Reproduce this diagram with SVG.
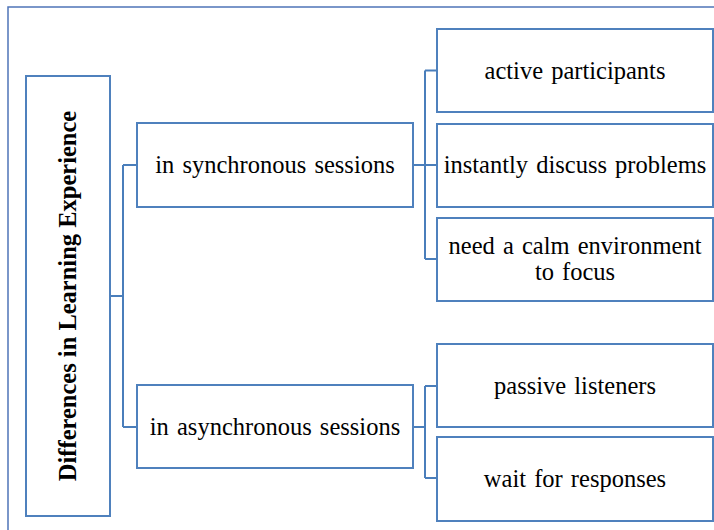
<svg xmlns="http://www.w3.org/2000/svg" width="714" height="530" viewBox="0 0 714 530">
<style>
.box{fill:#ffffff;stroke:#4f81bd;stroke-width:2}
.frame{fill:none;stroke:#4f74b8;stroke-width:1.5}
.conn{fill:none;stroke:#4a7ebb;stroke-width:2}
.t{font-family:"Liberation Serif","Times New Roman",serif;font-size:24.5px;fill:#000000;text-anchor:middle;word-spacing:2px}
.b{font-weight:bold;word-spacing:0}
</style>
<rect width="714" height="530" fill="#ffffff"/>
<rect class="frame" x="8" y="7" width="740" height="560"/>
<g id="connectors">
<path class="conn" d="M110 296H123M123 165V427M123 165H137M123 427H137"/>
<path class="conn" d="M413 165H437M425 70.5V259M425 70.5H437M425 259H437"/>
<path class="conn" d="M413 427H425M425 386V478M425 386H437M425 478H437"/>
</g>
<g id="root">
<rect class="box" x="26" y="76" width="84" height="440"/>
<text class="t b" transform="translate(76 296) rotate(-90)" x="0" y="0">Differences in Learning Experience</text>
</g>
<g id="sync">
<rect class="box" x="137" y="123" width="276" height="84"/>
<text class="t" x="275" y="173">in synchronous sessions</text>
</g>
<g id="async">
<rect class="box" x="137" y="385" width="276" height="83"/>
<text class="t" x="275" y="435">in asynchronous sessions</text>
</g>
<g id="active">
<rect class="box" x="437" y="29" width="276" height="83"/>
<text class="t" x="575" y="79">active participants</text>
</g>
<g id="instantly">
<rect class="box" x="437" y="124" width="276" height="83"/>
<text class="t" x="575" y="173">instantly discuss problems</text>
</g>
<g id="calm">
<rect class="box" x="437" y="218" width="276" height="83"/>
<text class="t" x="575" y="254">need a calm environment</text>
<text class="t" x="575" y="280">to focus</text>
</g>
<g id="passive">
<rect class="box" x="437" y="344" width="276" height="83"/>
<text class="t" x="575" y="394">passive listeners</text>
</g>
<g id="wait">
<rect class="box" x="437" y="437" width="276" height="84"/>
<text class="t" x="575" y="487">wait for responses</text>
</g>
</svg>
